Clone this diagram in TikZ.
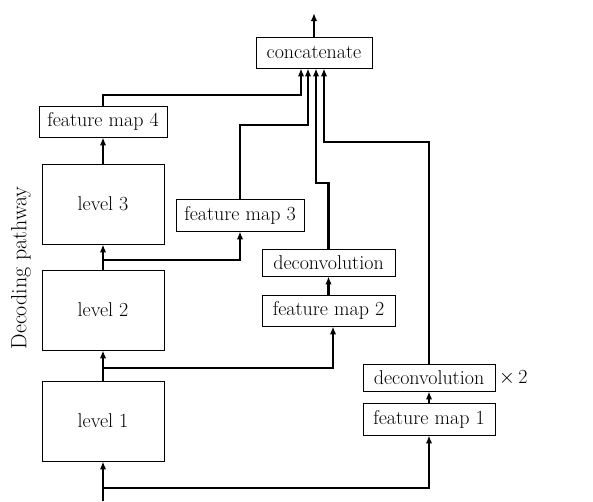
\documentclass[tikz,border=0pt]{standalone}
\usepackage{fontspec}
\usetikzlibrary{arrows.meta,positioning}
\tikzset{
  box/.style = {draw, line width = 0.9pt, inner sep = 0pt, font = \fontsize{20}{22}\selectfont},
  conn/.style = {line width = 2.8pt, -{Latex[length = 8pt, width = 6.5pt]}},
}
\begin{document}
\begin{tikzpicture}[x = 1pt, y = -1pt]
\useasboundingbox (0,0) rectangle (593,501);
\node[box, minimum width = 116pt, minimum height = 31pt] (cat) at (314,52.5) {concatenate};
\node[box, minimum width = 128pt, minimum height = 31pt] (fm4) at (103,121.5) {feature map 4};
\node[box, minimum width = 122pt, minimum height = 80pt] (lv3) at (103,204) {level 3};
\node[box, minimum width = 122pt, minimum height = 80pt] (lv2) at (103,310) {level 2};
\node[box, minimum width = 122pt, minimum height = 80pt] (lv1) at (103,421) {level 1};
\node[box, minimum width = 128pt, minimum height = 32pt] (fm3) at (240,215) {feature map 3};
\node[box, minimum width = 133pt, minimum height = 27pt] (dc2) at (328.5,262.5) {deconvolution};
\node[box, minimum width = 133pt, minimum height = 31pt] (fm2) at (328.5,310.5) {feature map 2};
\node[box, minimum width = 132pt, minimum height = 27pt] (dc1) at (429,377.5) {deconvolution};
\node[box, minimum width = 132pt, minimum height = 32pt] (fm1) at (429,419) {feature map 1};
\node[box, draw = none, right = 3pt of dc1] (x2) {$\times$\,2};
\node[box, draw = none, rotate = 90, font = \fontsize{22}{24}\selectfont] (lbl) at (21,268) {Decoding pathway};
\coordinate (out) at (314,13);
\coordinate (in) at (103,501);

\draw[conn] (cat.north) -- (out);
\draw[conn] (fm4.north) |- (301,95) -- ([xshift = -13pt]cat.south);
\draw[conn] (fm3.north) |- (308,125) -- ([xshift = -6pt]cat.south);
\draw[conn] (dc2.north) |- (316,183) -- ([xshift = 2pt]cat.south);
\draw[conn] (dc1.north) |- (324,142) -- ([xshift = 10pt]cat.south);

\draw[conn] (lv3.north) -- (fm4.south);
\draw[conn] (lv2.north) -- (lv3.south);
\draw[conn] (lv1.north) -- (lv2.south);
\draw[conn] (in) -- (lv1.south);
\draw[conn] (lv2.north |- 0,260) -| (fm3.south);
\draw[conn] (lv1.north |- 0,368) -| ([xshift = 4.5pt]fm2.south);
\draw[conn] (in |- 0,488) -| (fm1.south);
\draw[conn] (fm2.north) -- (dc2.south);
\draw[conn] (fm1.north) -- (dc1.south);
\end{tikzpicture}
\end{document}
